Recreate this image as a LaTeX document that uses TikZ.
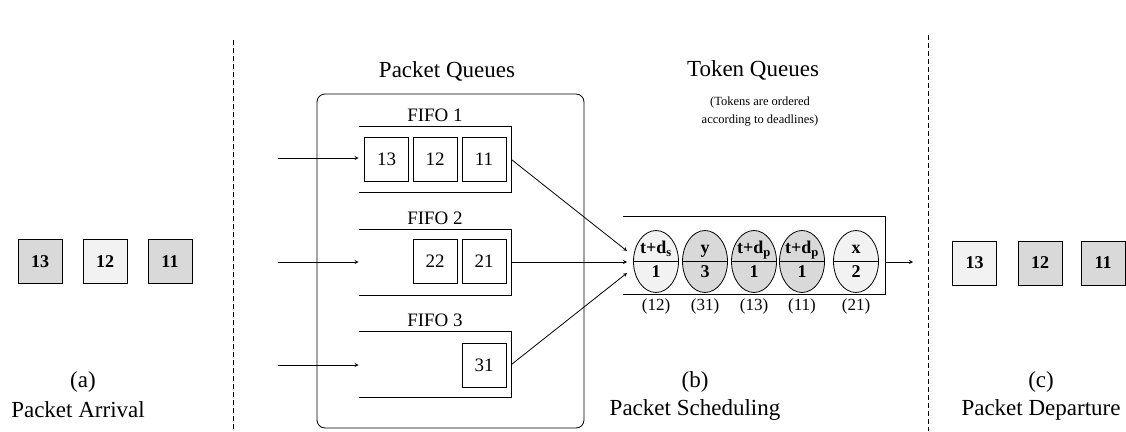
\documentclass[tikz,border=0pt]{standalone}
\usepackage{fontspec}
\setmainfont{Liberation Serif}
\usetikzlibrary{positioning, calc, arrows.meta, shapes.geometric}
\definecolor{pktdark}{gray}{0.85}
\definecolor{pktlight}{gray}{0.95}

\begin{document}
\begin{tikzpicture}[x=1pt, y=-1pt, >=stealth, line width=0.8pt,
    bigtxt/.style={font=\fontsize{23}{26}\selectfont},
    fifotxt/.style={font=\fontsize{19}{21}\selectfont},
    pkt/.style={draw, minimum width=44pt, minimum height=44pt, inner sep=0pt,
        font=\fontsize{18}{20}\selectfont\bfseries},
    qpkt/.style={draw, minimum width=44pt, minimum height=44pt, inner sep=0pt,
        font=\fontsize{19}{21}\selectfont},
    fifoq/.style={minimum width=152pt, minimum height=65pt, inner sep=0pt},
    tok/.style={draw, ellipse, minimum width=45pt, minimum height=62pt, inner sep=0pt},
    toktxt/.style={anchor=base, inner sep=0pt, font=\fontsize{18}{20}\selectfont\bfseries},
    smalltxt/.style={font=\fontsize{17}{19}\selectfont}]
    \useasboundingbox (0,0) rectangle (1126,431);

    % Dividers
    \draw[dash pattern=on 5pt off 3pt] (233,40) -- (233,431);
    \draw[dash pattern=on 5pt off 3pt] (928,35) -- (928,431);

    % (a) Packet arrival
    \node[pkt, fill=pktdark] (pa3) at (40,261.5) {13};
    \node[pkt, fill=pktlight] (pa2) at (105,261.5) {12};
    \node[pkt, fill=pktdark] (pa1) at (170,261.5) {11};
    \node[bigtxt] (lba) at (83,382) {(a)};
    \node[bigtxt] (tta) at (78,410) {Packet Arrival};

    % (b) Packet queues
    \node[bigtxt] (pqt) at (447,71) {Packet Queues};
    \node[draw, rounded corners=8pt, minimum width=267pt, minimum height=334pt] (pq) at (450.5,261) {};

    \node[fifoq] (f1) at (435,159.5) {};
    \node[fifoq] (f2) at (435,262) {};
    \node[fifoq] (f3) at (435,364.5) {};
    \foreach \f in {f1,f2,f3}
        \draw (\f.north west) -- (\f.north east) -- (\f.south east) -- (\f.south west);
    \node[fifotxt, above=1pt of f1] (f1t) {FIFO 1};
    \node[fifotxt, above=1pt of f2] (f2t) {FIFO 2};
    \node[fifotxt, above=1pt of f3] (f3t) {FIFO 3};

    \node[qpkt] (q13) at (386.5,159) {13};
    \node[qpkt] (q12) at (435,159) {12};
    \node[qpkt] (q11) at (484,159) {11};
    \node[qpkt] (q22) at (435,261) {22};
    \node[qpkt] (q21) at (484,261) {21};
    \node[qpkt] (q31) at (484,365) {31};

    \coordinate (in1) at (278,158);
    \coordinate (in2) at (278,262);
    \coordinate (in3) at (278,365);
    \draw[->] (in1) -- (in1 -| f1.west);
    \draw[->] (in2) -- (in2 -| f2.west);
    \draw[->] (in3) -- (in3 -| f3.west);

    % Token queues
    \node[bigtxt] (tqt) at (753,70) {Token Queues};
    \node[align=center, font=\fontsize{12.5}{18}\selectfont] (tqn) at (760,112)
        {(Tokens are ordered\\according to deadlines)};
    \node[minimum width=262pt, minimum height=77pt, inner sep=0pt] (tq) at (754,255.5) {};
    \draw (tq.north west) -- (tq.north east) -- (tq.south east) -- (tq.south west);

    \coordinate (tin1) at (627,251);
    \coordinate (tin2) at (627,262);
    \coordinate (tin3) at (627,273);
    \draw[->] (f1.east) -- (tin1);
    \draw[->] (f2.east) -- (tin2);
    \draw[->] (f3.east) -- (tin3);

    \node[tok, fill=pktlight] (tk1) at (656,261.5) {};
    \node[tok, fill=pktdark] (tk2) at (705,261.5) {};
    \node[tok, fill=pktdark] (tk3) at (754,261.5) {};
    \node[tok, fill=pktdark] (tk4) at (802,261.5) {};
    \node[tok, fill=pktlight] (tk5) at (856,261.5) {};
    \foreach \t in {tk1,tk2,tk3,tk4,tk5}
        \draw (\t.west) -- (\t.east);

    \node[toktxt] (tk1a) at ($(tk1.center)+(0,-8)$) {t+d\textsubscript{s}};
    \node[toktxt] (tk1b) at ($(tk1.center)+(0,16)$) {1};
    \node[toktxt] (tk2a) at ($(tk2.center)+(0,-8)$) {y};
    \node[toktxt] (tk2b) at ($(tk2.center)+(0,16)$) {3};
    \node[toktxt] (tk3a) at ($(tk3.center)+(0,-8)$) {t+d\textsubscript{p}};
    \node[toktxt] (tk3b) at ($(tk3.center)+(0,16)$) {1};
    \node[toktxt] (tk4a) at ($(tk4.center)+(0,-8)$) {t+d\textsubscript{p}};
    \node[toktxt] (tk4b) at ($(tk4.center)+(0,16)$) {1};
    \node[toktxt] (tk5a) at ($(tk5.center)+(0,-8)$) {x};
    \node[toktxt] (tk5b) at ($(tk5.center)+(0,16)$) {2};

    \node[smalltxt] (tl1) at (656,306) {(12)};
    \node[smalltxt] (tl2) at (705,306) {(31)};
    \node[smalltxt] (tl3) at (754,306) {(13)};
    \node[smalltxt] (tl4) at (802,306) {(11)};
    \node[smalltxt] (tl5) at (856,306) {(21)};

    \coordinate (tout) at (913,262);
    \draw[->] (tout -| tq.east) -- (tout);

    \node[bigtxt] (lbb) at (695,382) {(b)};
    \node[bigtxt] (ttb) at (695,410) {Packet Scheduling};

    % (c) Packet departure
    \node[pkt, fill=pktlight] (pd3) at (974.5,263) {13};
    \node[pkt, fill=pktdark] (pd2) at (1040,263) {12};
    \node[pkt, fill=pktdark] (pd1) at (1103,263) {11};
    \node[bigtxt] (lbc) at (1041,382) {(c)};
    \node[bigtxt] (ttc) at (1041,410) {Packet Departure};
\end{tikzpicture}
\end{document}
